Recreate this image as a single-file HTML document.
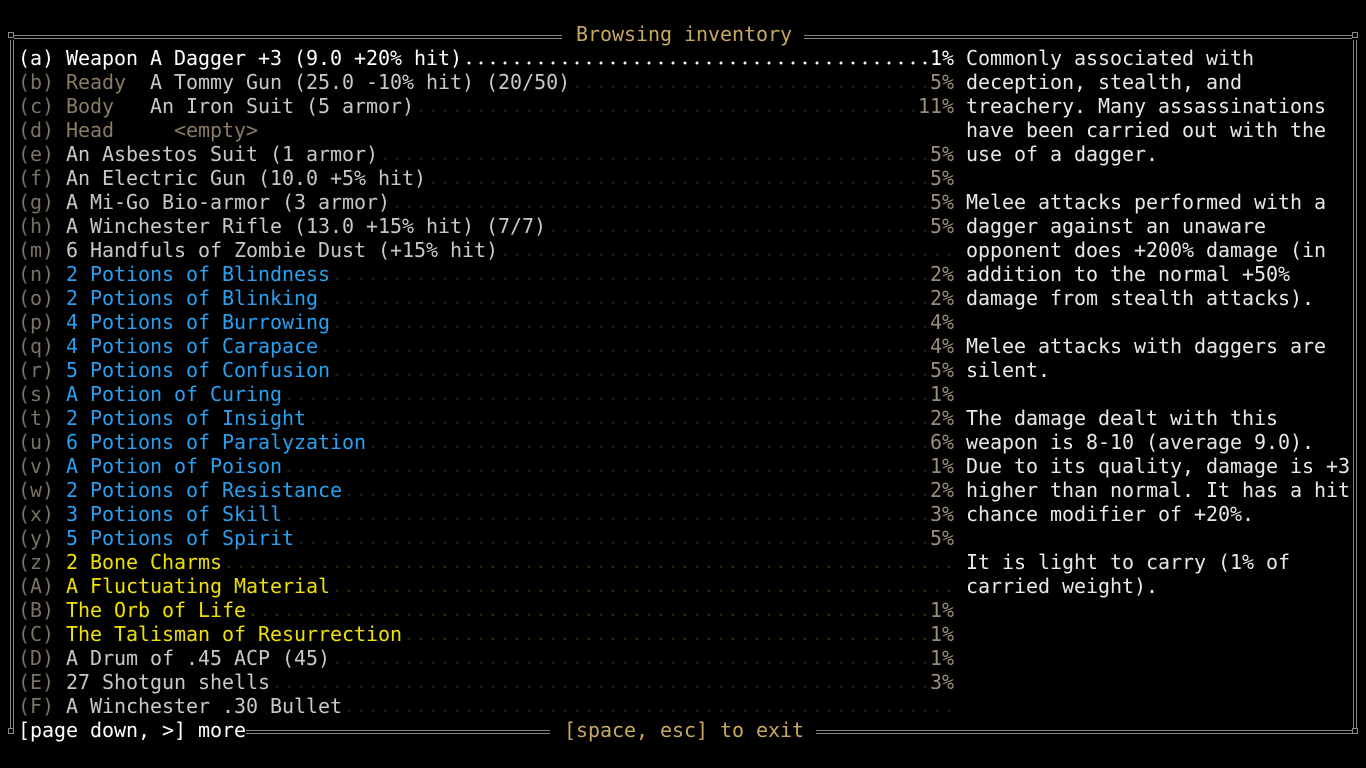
<!DOCTYPE html>
<html><head><meta charset="utf-8"><style>
body{margin:0;width:1366px;height:768px;background:#000;overflow:hidden;position:relative;font-family:"DejaVu Sans Mono","Liberation Mono",monospace;font-size:20px;letter-spacing:-0.04px;}
.r{position:absolute;left:18px;width:936px;height:24px;line-height:24px;white-space:pre;display:flex;
background-image:radial-gradient(circle,var(--d) 1.3px,transparent 1.6px);background-size:12px 24px;background-position:1px 5px;background-repeat:repeat-x;}
.r .l,.r .p{background:#000}
.r .f{flex:1}
.k{color:#7a7264}.s{color:#8a7c62}.g{color:#c8c8c8}.b{color:#2aa0f0}.y{color:#f0e000}.w{color:#fff}.p{color:#9a8e78}
.t{position:absolute;left:966px;line-height:24px;white-space:pre;color:#e8e8e8}
.hl{position:absolute;height:2px;border-top:1px solid #888;border-bottom:1px solid #888;}
.vl{position:absolute;width:2px;border-left:1px solid #888;border-right:1px solid #888;}
.c{position:absolute;width:4px;height:4px;border:1px solid #888}
.ttl{position:absolute;color:#c8a860;white-space:pre;line-height:24px}
</style></head><body>
<div class="hl" style="left:14px;width:548px;top:35px"></div>
<div class="hl" style="left:804px;width:548px;top:35px"></div>
<div class="hl" style="left:246px;width:304px;top:730px"></div>
<div class="hl" style="left:816px;width:536px;top:730px"></div>
<div class="vl" style="left:10px;top:40px;height:688px"></div>
<div class="vl" style="left:1353px;top:40px;height:688px"></div>
<div class="c" style="left:8px;top:32px"></div><div class="c" style="left:1352px;top:32px"></div>
<div class="c" style="left:8px;top:728px"></div><div class="c" style="left:1352px;top:728px"></div>
<div class="ttl" style="left:576px;top:22px">Browsing inventory</div>
<div class="ttl" style="left:564px;top:718px">[space, esc] to exit</div>
<div class="ttl" style="left:18px;top:718px;color:#fff">[page down, &gt;] more</div>

<div class="r w" style="top:46px;--d:#fff"><span class="l">(a) Weapon A Dagger +3 (9.0 +20% hit)</span><span class="f"></span><span class="p" style="color:#fff">1%</span></div>
<div class="r" style="top:70px;--d:#1c1c1c"><span class="l"><span class="k">(b) </span><span class="s">Ready  </span><span class="g">A Tommy Gun (25.0 -10% hit) (20/50)</span></span><span class="f"></span><span class="p">5%</span></div>
<div class="r" style="top:94px;--d:#1c1c1c"><span class="l"><span class="k">(c) </span><span class="s">Body   </span><span class="g">An Iron Suit (5 armor)</span></span><span class="f"></span><span class="p">11%</span></div>
<div class="r" style="top:118px;--d:transparent"><span class="l"><span class="k">(d) </span><span class="s">Head     &lt;empty&gt;</span></span><span class="f"></span></div>
<div class="r" style="top:142px;--d:#1c1c1c"><span class="l"><span class="k">(e) </span><span class="g">An Asbestos Suit (1 armor)</span></span><span class="f"></span><span class="p">5%</span></div>
<div class="r" style="top:166px;--d:#1c1c1c"><span class="l"><span class="k">(f) </span><span class="g">An Electric Gun (10.0 +5% hit)</span></span><span class="f"></span><span class="p">5%</span></div>
<div class="r" style="top:190px;--d:#1c1c1c"><span class="l"><span class="k">(g) </span><span class="g">A Mi-Go Bio-armor (3 armor)</span></span><span class="f"></span><span class="p">5%</span></div>
<div class="r" style="top:214px;--d:#1c1c1c"><span class="l"><span class="k">(h) </span><span class="g">A Winchester Rifle (13.0 +15% hit) (7/7)</span></span><span class="f"></span><span class="p">5%</span></div>
<div class="r" style="top:238px;--d:#1c1c1c"><span class="l"><span class="k">(m) </span><span class="g">6 Handfuls of Zombie Dust (+15% hit)</span></span><span class="f"></span></div>
<div class="r" style="top:262px;--d:#0c2030"><span class="l"><span class="k">(n) </span><span class="b">2 Potions of Blindness</span></span><span class="f"></span><span class="p">2%</span></div>
<div class="r" style="top:286px;--d:#0c2030"><span class="l"><span class="k">(o) </span><span class="b">2 Potions of Blinking</span></span><span class="f"></span><span class="p">2%</span></div>
<div class="r" style="top:310px;--d:#0c2030"><span class="l"><span class="k">(p) </span><span class="b">4 Potions of Burrowing</span></span><span class="f"></span><span class="p">4%</span></div>
<div class="r" style="top:334px;--d:#0c2030"><span class="l"><span class="k">(q) </span><span class="b">4 Potions of Carapace</span></span><span class="f"></span><span class="p">4%</span></div>
<div class="r" style="top:358px;--d:#0c2030"><span class="l"><span class="k">(r) </span><span class="b">5 Potions of Confusion</span></span><span class="f"></span><span class="p">5%</span></div>
<div class="r" style="top:382px;--d:#0c2030"><span class="l"><span class="k">(s) </span><span class="b">A Potion of Curing</span></span><span class="f"></span><span class="p">1%</span></div>
<div class="r" style="top:406px;--d:#0c2030"><span class="l"><span class="k">(t) </span><span class="b">2 Potions of Insight</span></span><span class="f"></span><span class="p">2%</span></div>
<div class="r" style="top:430px;--d:#0c2030"><span class="l"><span class="k">(u) </span><span class="b">6 Potions of Paralyzation</span></span><span class="f"></span><span class="p">6%</span></div>
<div class="r" style="top:454px;--d:#0c2030"><span class="l"><span class="k">(v) </span><span class="b">A Potion of Poison</span></span><span class="f"></span><span class="p">1%</span></div>
<div class="r" style="top:478px;--d:#0c2030"><span class="l"><span class="k">(w) </span><span class="b">2 Potions of Resistance</span></span><span class="f"></span><span class="p">2%</span></div>
<div class="r" style="top:502px;--d:#0c2030"><span class="l"><span class="k">(x) </span><span class="b">3 Potions of Skill</span></span><span class="f"></span><span class="p">3%</span></div>
<div class="r" style="top:526px;--d:#0c2030"><span class="l"><span class="k">(y) </span><span class="b">5 Potions of Spirit</span></span><span class="f"></span><span class="p">5%</span></div>
<div class="r" style="top:550px;--d:#2a2808"><span class="l"><span class="k">(z) </span><span class="y">2 Bone Charms</span></span><span class="f"></span></div>
<div class="r" style="top:574px;--d:#2a2808"><span class="l"><span class="k">(A) </span><span class="y">A Fluctuating Material</span></span><span class="f"></span></div>
<div class="r" style="top:598px;--d:#2a2808"><span class="l"><span class="k">(B) </span><span class="y">The Orb of Life</span></span><span class="f"></span><span class="p">1%</span></div>
<div class="r" style="top:622px;--d:#2a2808"><span class="l"><span class="k">(C) </span><span class="y">The Talisman of Resurrection</span></span><span class="f"></span><span class="p">1%</span></div>
<div class="r" style="top:646px;--d:#1c1c1c"><span class="l"><span class="k">(D) </span><span class="g">A Drum of .45 ACP (45)</span></span><span class="f"></span><span class="p">1%</span></div>
<div class="r" style="top:670px;--d:#1c1c1c"><span class="l"><span class="k">(E) </span><span class="g">27 Shotgun shells</span></span><span class="f"></span><span class="p">3%</span></div>
<div class="r" style="top:694px;--d:#1c1c1c"><span class="l"><span class="k">(F) </span><span class="g">A Winchester .30 Bullet</span></span><span class="f"></span></div>

<div class="t" style="top:46px">Commonly associated with
deception, stealth, and
treachery. Many assassinations
have been carried out with the
use of a dagger.

Melee attacks performed with a
dagger against an unaware
opponent does +200% damage (in
addition to the normal +50%
damage from stealth attacks).

Melee attacks with daggers are
silent.

The damage dealt with this
weapon is 8-10 (average 9.0).
Due to its quality, damage is +3
higher than normal. It has a hit
chance modifier of +20%.

It is light to carry (1% of
carried weight).</div>
</body></html>
